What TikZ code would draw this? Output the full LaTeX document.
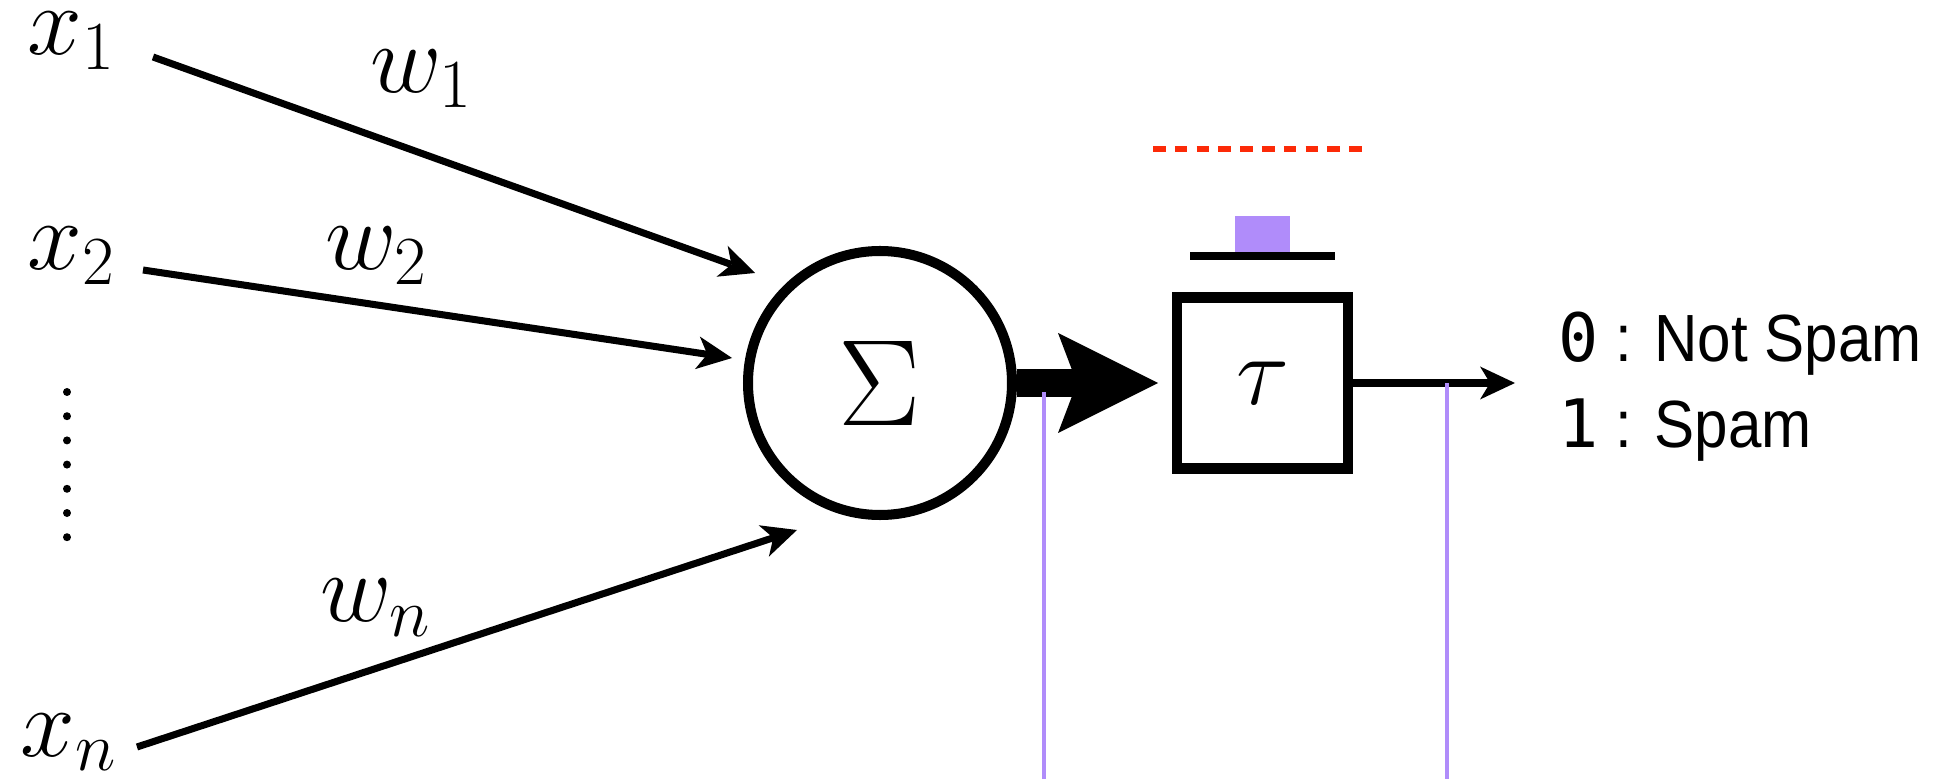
\RequirePackage{fix-cm}
\documentclass[tikz,border=0pt]{standalone}
\usepackage{amsmath, amssymb}
\usepackage{fontspec}
\usepackage{tikz}
\usetikzlibrary{arrows.meta}
\newfontfamily\spamfont[FakeStretch=0.9]{Liberation Sans}
\newfontfamily\spammono{DejaVu Sans Mono}

\begin{document}
\begin{tikzpicture}
	[%Styles
	input/.style={anchor=base west,inner sep=0pt,font=\fontsize{28}{34}\selectfont},
	weight/.style={anchor=base west,inner sep=0pt,font=\fontsize{28}{34}\selectfont},
	sum/.style={circle,draw,line width=2.85pt,minimum size=2.64cm,inner sep=0pt,font=\fontsize{35}{42}\selectfont},
	threshold/.style={rectangle,draw,line width=2.85pt,minimum size=1.71cm,inner sep=0pt,font=\fontsize{28}{34}\selectfont},
	in arrow/.style={line width=2pt,-{Stealth[length=0.35cm,width=0.33cm,inset=0.1cm,line width=0pt]}},
	big arrow/.style={line width=8pt,shorten >=0.14cm,-{Stealth[length=1cm,width=1cm,inset=0.19cm,line width=0pt]}},
	out text/.style={anchor=base west,inner sep=0pt,font=\spamfont\fontsize{19}{23}\selectfont},
	probe/.style={markpurple,line width=1.4pt}
	]
	
	%Colors
	\definecolor{markred}{RGB}{252,42,8}	%dashed level
	\definecolor{markpurple}{RGB}{176,140,250}	%probes
	
	\useasboundingbox (0,0) rectangle (19.51,7.79);
	
	%The graphic
	\node[input] (x1) at (0.27,7.24) {$x_1$};
	\node[input] (x2) at (0.27,5.09) {$x_2$};
	\node[input] (xn) at (0.20,0.23) {$x_n$};
	
	\node[weight] (w1) at (3.70,6.86) {$w_1$};
	\node[weight] (w2) at (3.25,5.09) {$w_2$};
	\node[weight] (wn) at (3.20,1.57) {$w_n$};
	
	\foreach \i in {0,...,6}
		\fill (0.67,3.87-0.242*\i) circle (0.04);
	
	\node[sum] (S) at (8.80,3.96) {$\Sigma$};
	\node[threshold] (T) at (12.625,3.96) {$\tau$};
	
	\coordinate (s1) at (1.53,7.22);
	\coordinate (e1) at (7.55,5.06);
	\coordinate (s2) at (1.43,5.09);
	\coordinate (e2) at (7.32,4.21);
	\coordinate (sn) at (1.37,0.32);
	\coordinate (en) at (7.97,2.49);
	\coordinate (out) at (15.15,3.96);
	
	\draw[in arrow] (s1) -- (e1);
	\draw[in arrow] (s2) -- (e2);
	\draw[in arrow] (sn) -- (en);
	\draw[big arrow] (S) -- (T);
	\draw[in arrow] (T) -- (out);
	
	\node[out text] (zero) at (15.58,4.17) {{\spammono 0} : Not Spam};
	\node[out text] (one) at (15.58,3.31) {{\spammono 1} : Spam};
	
	\draw[line width=2.3pt] (11.90,5.23) -- (13.35,5.23);
	\fill[markpurple] (12.35,5.27) rectangle (12.90,5.63);
	\draw[markred,line width=1.5pt,dash pattern=on 3.6pt off 2.6pt] (11.53,6.30) -- (13.68,6.30);
	
	\draw[probe] (10.44,3.87) -- (10.44,0);
	\draw[probe] (14.47,3.96) -- (14.47,0);
\end{tikzpicture}
\end{document}
